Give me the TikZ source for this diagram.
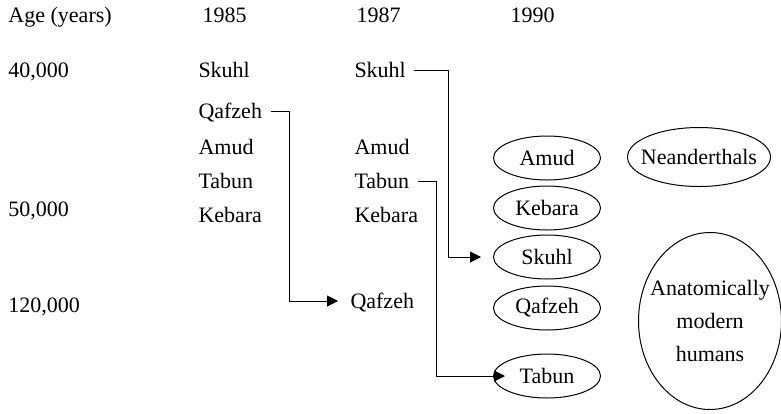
\documentclass[tikz,border=0pt]{standalone}
\usepackage{fontspec}
\setmainfont{Liberation Serif}
\usepackage{tikz}
\usetikzlibrary{shapes.geometric}
\usetikzlibrary{arrows.meta}

\begin{document}
\begin{tikzpicture}[x=1pt,y=-1pt,>={Triangle[length=11pt,width=11pt]},
		line width=1pt,font=\fontsize{22}{33}\selectfont,
		label node/.style={anchor=base west,inner sep=0pt,text height=14pt,text depth=0pt},
		site node/.style={ellipse,draw,inner sep=0pt,minimum width=107pt,minimum height=44pt},
		group node/.style={ellipse,draw,inner xsep=-10pt,inner ysep=0pt,minimum width=143pt},
		link/.style={->,shorten <=8pt}]

	\useasboundingbox (0,0) rectangle (781,413);

	% Header row
	\node[label node] (age) at (8,22) {Age (years)};
	\node[label node] (y85) at (202,22) {1985};
	\node[label node] (y87) at (356,22) {1987};
	\node[label node] (y90) at (510,22) {1990};

	% Ages
	\node[label node] (a40) at (8,77) {40,000};
	\node[label node] (a50) at (8,216) {50,000};
	\node[label node] (a120) at (8,312) {120,000};

	% 1985 column
	\node[label node] (sk85) at (198,77) {Skuhl};
	\node[label node] (qf85) at (198,118) {Qafzeh};
	\node[label node] (am85) at (198,154) {Amud};
	\node[label node] (tb85) at (198,188) {Tabun};
	\node[label node] (kb85) at (198,222) {Kebara};

	% 1987 column
	\node[label node] (sk87) at (354,77) {Skuhl};
	\node[label node] (am87) at (354,154) {Amud};
	\node[label node] (tb87) at (354,188) {Tabun};
	\node[label node] (kb87) at (354,222) {Kebara};
	\node[label node] (qf87) at (350,308) {Qafzeh};

	% 1990 column
	\node[site node] (am90) at (547,158) {Amud};
	\node[site node] (kb90) at (547,208) {Kebara};
	\node[site node] (sk90) at (547,257) {Skuhl};
	\node[site node] (qf90) at (547,308) {Qafzeh};
	\node[site node] (tb90) at (547,376) {Tabun};

	% Groups
	\node[group node,minimum height=59pt] (nea) at (699,157) {Neanderthals};
	\node[group node,minimum height=177pt,align=center] (amh) at (710,321)
		{Anatomically\\modern\\humans};

	% Edges
	\draw[link,shorten >=12pt] (qf85.east) -- ++(27,0) |- (qf87.west);
	\draw[link,shorten >=12pt] (sk87.east) -- ++(42,0) |- (sk90.west);
	\draw[link,shorten >=-12pt] (tb87.east) -- ++(27,0) |- (tb90.west);
\end{tikzpicture}
\end{document}
